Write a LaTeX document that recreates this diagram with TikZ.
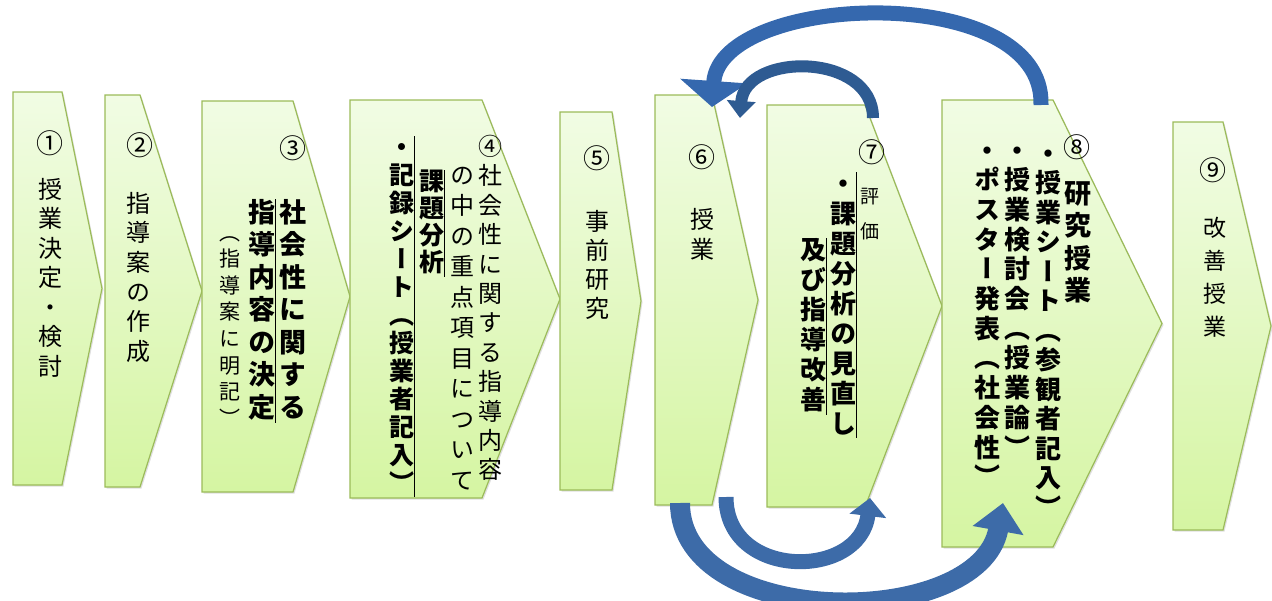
\documentclass[tikz,border=0pt]{standalone}
\usepackage{fontspec}
\newfontfamily\jp{Noto Sans CJK JP}[RawFeature=+vert]
\usetikzlibrary{arrows.meta}
\usetikzlibrary{shadows}
\definecolor{chevtop}{HTML}{F1FCE4}
\definecolor{chevbottom}{HTML}{D5F5A2}
\definecolor{chevline}{HTML}{9BBB59}
\definecolor{loopblue}{HTML}{3568AE}
\definecolor{loopdark}{HTML}{2E5B92}
\definecolor{lowblue}{HTML}{3D6BA8}
\makeatletter
\newcommand\tatecol[1]{\vbox{\lineskiplimit=-\maxdimen
  \@tfor\tatechar:=#1\do{\hbox to 1em{\hss\vrule height .8em depth .2em width 0pt\tatechar\hss}}}}
\makeatother

\begin{document}
\begin{tikzpicture}
[x=1pt,y=-1pt,%
  chevron/.style={draw=chevline,line width=1.2pt,top color=chevtop,bottom color=chevbottom,
    drop shadow={shadow xshift=1.5pt,shadow yshift=-1.5pt,opacity=0.25}},%
  num/.style={inner sep=0pt,font=\jp\fontsize{27}{27}\selectfont},%
  tate/.style n args={2}{inner sep=0pt,anchor=north,font=\jp\fontsize{#1}{#2}\selectfont},%
  tateb/.style n args={2}{inner sep=0pt,anchor=north,font=\jp\bfseries\fontsize{#1}{#2}\selectfont},%
  uline/.style={line width=0.8pt}]
\useasboundingbox (0,0) rectangle (1272,600);
\foreach \l/\t/\r/\p/\b in {13/92/62/102/485, 105/95/140/202/487, 202/101/293/350/492,
  350/100/482/560/498, 560/112/612/641/490, 655/95/712/758/505,
  767/105/865/942/507, 942/100/1053/1162/547, 1173/122/1223/1271/530}
  \path[chevron] (\l,\t) -- (\r,\t) -- (\p,{(\t+\b)/2}) -- (\r,\b) -- (\l,\b) -- cycle;

\node[num] (n1) at (50,143) {①};
\node[tate={24}{29.5}] (t1) at (50,178) {\tatecol{授業決定・検討}};
\node[num] (n2) at (140,145) {②};
\node[tate={24}{29.6}] (t2) at (138,192) {\tatecol{指導案の作成}};
\node[num] (n3) at (293,148) {③};
\node[tateb={27}{32.5}] (t3a) at (293,199) {\tatecol{社会性に関する}};
\node[tateb={27}{32.5}] (t3b) at (262,199) {\tatecol{指導内容の決定}};
\node[tate={21}{26.6}] (t3c) at (230,223) {\tatecol{（指導案に明記）}};
\node[tate={24}{29.4}] (t4a) at (490,135) {\tatecol{④社会性に関する指導内容}};
\node[tate={24}{30.5}] (t4b) at (462,165) {\tatecol{の中の重点項目について}};
\node[tateb={25}{27}] (t4c) at (432,170) {\tatecol{課題分析}};
\node[tateb={25}{28}] (t4d) at (402,136) {\tatecol{・記録シート（授業者記入）}};
\node[num] (n5) at (597,158) {⑤};
\node[tate={24}{29}] (t5) at (597,210) {\tatecol{事前研究}};
\node[num] (n6) at (702,157) {⑥};
\node[tate={24}{30}] (t6) at (702,208) {\tatecol{授業}};
\node[num] (n7) at (872,152) {⑦};
\node[tate={19}{35}] (t7a) at (870,188) {\tatecol{評価}};
\node[tateb={26}{30}] (t7b) at (843,172) {\tatecol{・課題分析の見直し}};
\node[tateb={26}{30}] (t7c) at (813,238) {\tatecol{及び指導改善}};
\node[num] (n8) at (1077,147) {⑧};
\node[tateb={27}{32.5}] (t8a) at (1078,181) {\tatecol{研究授業}};
\node[tateb={26}{29.5}] (t8b) at (1048,142) {\tatecol{・授業シート（参観者記入）}};
\node[tateb={26}{29.7}] (t8c) at (1017,139) {\tatecol{・授業検討会（授業論）}};
\node[tateb={26}{29.7}] (t8d) at (987,139) {\tatecol{・ポスター発表（社会性）}};
\node[num] (n9) at (1213,170) {⑨};
\node[tate={23}{33}] (t9) at (1215,217) {\tatecol{改善授業}};

\draw[uline] (t3b.north east) -- (t3b.south east);
\draw[uline] (t4c.north east) -- (t4c.south east);
\draw[uline] (t4d.north east) -- (t4d.south east);
\draw[uline] (t7b.north east) -- (t7b.south east);
\draw[uline] (t7c.north east) -- (t7c.south east);

\coordinate (top8) at (1041,105);
\coordinate (top6) at (712,107);
\coordinate (top7) at (873,118);
\coordinate (mid6) at (740,118);
\coordinate (bot6a) at (726,497);
\coordinate (bot7) at (870,498);
\coordinate (bot6b) at (680,503);
\coordinate (bot8) at (1003,503);
\draw[loopblue,line width=15pt,-{Triangle[width=66pt,length=26pt]}]
  (top8) .. controls +(4,-125) and +(8,-115) .. (top6);
\draw[loopdark,line width=12pt,-{Triangle[width=28pt,length=17pt]}]
  (top7) .. controls +(0,-66) and +(5,-66) .. (mid6);
\draw[lowblue,line width=15pt,-{Triangle[width=36pt,length=18pt]}]
  (bot6a) .. controls +(0,83) and +(-10,82) .. (bot7);
\draw[lowblue,line width=20pt,-{Triangle[width=50pt,length=28pt]}]
  (bot6b) .. controls +(0,128) and +(-23,128) .. (bot8);
\end{tikzpicture}
\end{document}
